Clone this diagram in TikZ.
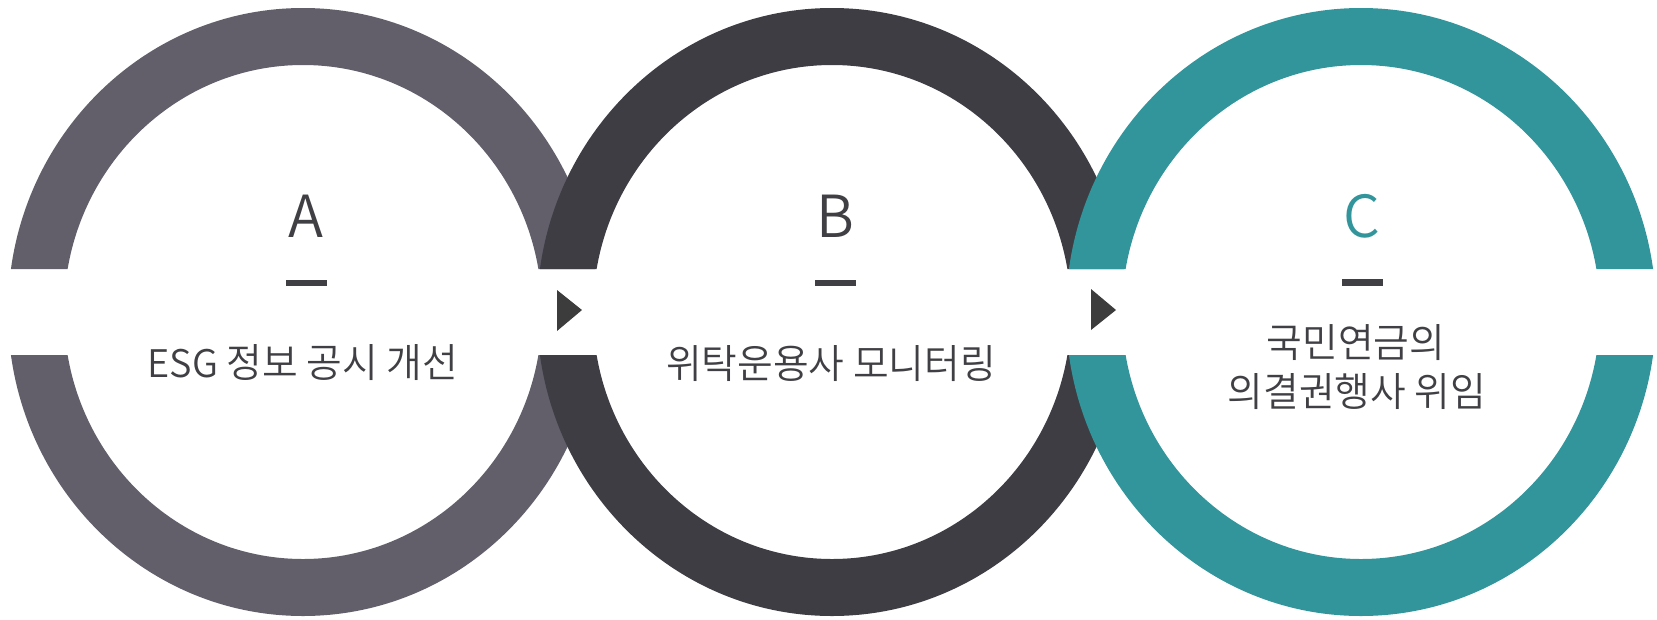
\documentclass[tikz,border=0pt]{standalone}
\usepackage{fontspec}
% Korean labels in a demi-light weight when one is installed
\IfFontExistsTF{Noto Sans CJK KR DemiLight}
  {\newfontfamily\krfont{Noto Sans CJK KR DemiLight}[FakeStretch=0.97]
   \newfontfamily\latfont{Noto Sans CJK KR DemiLight}}
  {\newfontfamily\krfont{Noto Sans CJK KR}[FakeStretch=0.97]
   \newfontfamily\latfont{Noto Sans CJK KR}}

\definecolor{ringA}{HTML}{625F6B}
\definecolor{ringB}{HTML}{3E3D44}
\definecolor{ringC}{HTML}{31959B}
\definecolor{ink}{HTML}{404044}
\definecolor{arrowink}{HTML}{3C3C3C}

\tikzset{
  letter/.style={anchor=base, inner sep=0pt, text=ink,
    font=\latfont\fontsize{58}{60}\selectfont},
  caption/.style={anchor=base, inner sep=0pt, text=ink,
    font=\krfont\fontsize{40}{48}\selectfont},
  bar/.style={fill=ink},
  pointer/.style={fill=arrowink},
}

% one ring with its horizontal opening, centred at x = #1
\newcommand{\openring}[2]{%
  \begin{scope}
    \clip (0,0) rectangle (1657,269) (0,355) rectangle (1657,619);
    \fill[#2, even odd rule]
      (#1,312) ellipse [x radius=295, y radius=304]
      (#1,312) ellipse [x radius=239, y radius=247];
  \end{scope}}

\begin{document}
\begin{tikzpicture}[x=1pt, y=-1pt]
  \useasboundingbox (0,0) rectangle (1657,619);

  % rings, later ones lying over earlier ones
  \openring{303}{ringA}
  \openring{832}{ringB}
  \openring{1361}{ringC}

  % pointers between the rings
  \fill[pointer] (557,290) -- (582,310) -- (557,331) -- cycle;
  \fill[pointer] (1091,289) -- (1116,310) -- (1091,330) -- cycle;

  % ring A
  \node[letter] (la) at (306,237.5) {A};
  \fill[bar] (286,279.5) rectangle (327,286);
  \node[caption] (ta) at (303,377) {{\latfont\fontsize{38}{44}\selectfont ESG} 정보 공시 개선};

  % ring B
  \node[letter] (lb) at (835,237.5) {B};
  \fill[bar] (815,279.5) rectangle (856,286);
  \node[caption] (tb) at (831,378.5) {위탁운용사 모니터링};

  % ring C
  \node[letter, text=ringC] (lc) at (1362,237.5) {C};
  \fill[bar] (1342,279) rectangle (1383,285.5);
  \node[caption] (tc1) at (1356,357) {국민연금의};
  \node[caption] (tc2) at (1357,406) {의결권행사 위임};
\end{tikzpicture}
\end{document}
